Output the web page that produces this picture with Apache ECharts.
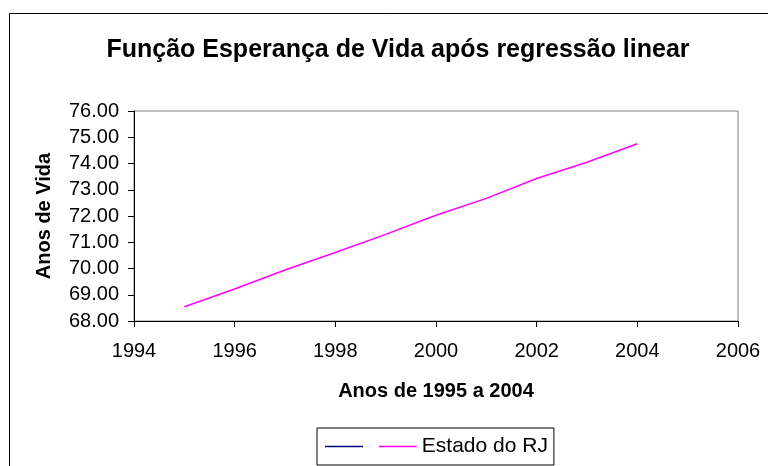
<!DOCTYPE html>
<html>
<head>
<meta charset="utf-8">
<script src="https://cdn.jsdelivr.net/npm/echarts@6/dist/echarts.min.js"></script>
<style>
  html, body { margin: 0; padding: 0; background: #fff; }
  #chart { width: 768px; height: 466px; }
</style>
</head>
<body>
<div id="chart"></div>
<script>
// anos e esperança de vida
const years = [1995, 1996, 1997, 1998, 1999, 2000, 2001, 2002, 2003, 2004];
const lifeRJ = [68.54, 69.22, 69.94, 70.61, 71.30, 72.03, 72.67, 73.43, 74.05, 74.75];
const legendNames = [' ', 'Estado do RJ'];

const font = 'Liberation Sans, Arial, sans-serif';
const chart = echarts.init(document.getElementById('chart'));

const option = {
  animation: false,
  title: {
    text: 'Função Esperança de Vida após regressão linear',
    left: 393,
    top: 33,
    textAlign: 'center',
    textStyle: { fontFamily: font, fontSize: 25, fontWeight: 'bold', color: '#000' }
  },
  legend: {
    data: legendNames,
    left: 317,
    top: 428,
    orient: 'horizontal',
    icon: 'rect',
    itemWidth: 38,
    itemHeight: 1.5,
    itemGap: 5,
    padding: [8, 6, 8, 8],
    borderColor: '#000',
    borderWidth: 1,
    textStyle: { fontFamily: font, fontSize: 21, color: '#000' }
  },
  grid: {
    left: 134,
    right: 30,
    top: 111,
    bottom: 145,
    show: true,
    borderColor: '#808080',
    borderWidth: 1
  },
  xAxis: {
    type: 'value',
    min: 1994,
    max: 2006,
    interval: 2,
    name: 'Anos de 1995 a 2004',
    nameLocation: 'middle',
    nameGap: 60,
    nameTextStyle: { fontFamily: font, fontSize: 20, fontWeight: 'bold', color: '#000' },
    axisLine: { lineStyle: { color: '#000', width: 1 } },
    axisTick: { inside: false, length: 6, lineStyle: { color: '#000' } },
    axisLabel: {
      fontFamily: font, fontSize: 20, color: '#000', margin: 20,
      formatter: (v) => String(v)
    },
    splitLine: { show: false }
  },
  yAxis: {
    type: 'value',
    min: 68,
    max: 76,
    interval: 1,
    name: 'Anos de Vida',
    nameLocation: 'middle',
    nameGap: 80,
    nameTextStyle: { fontFamily: font, fontSize: 20, fontWeight: 'bold', color: '#000' },
    axisLine: { show: true, lineStyle: { color: '#000', width: 1 } },
    axisTick: { show: true, inside: false, length: 6, lineStyle: { color: '#000' } },
    axisLabel: {
      fontFamily: font, fontSize: 20, color: '#000', margin: 15,
      formatter: (v) => v.toFixed(2)
    },
    splitLine: { show: false }
  },
  graphic: [{
    type: 'rect',
    shape: { x: 9.5, y: 13.5, width: 800, height: 500 },
    style: { fill: 'none', stroke: '#000', lineWidth: 1 },
    silent: true,
    z: -1
  }],
  series: [{
    name: legendNames[0],
    type: 'line',
    data: [],
    color: '#000080',
    lineStyle: { color: '#000080', width: 1.5 },
    showSymbol: false
  }, {
    name: legendNames[1],
    type: 'line',
    data: years.map((y, i) => [y, lifeRJ[i]]),
    color: '#FF00FF',
    lineStyle: { color: '#FF00FF', width: 1.5 },
    showSymbol: false,
    symbol: 'none'
  }]
};

chart.setOption(option);
</script>
</body>
</html>
